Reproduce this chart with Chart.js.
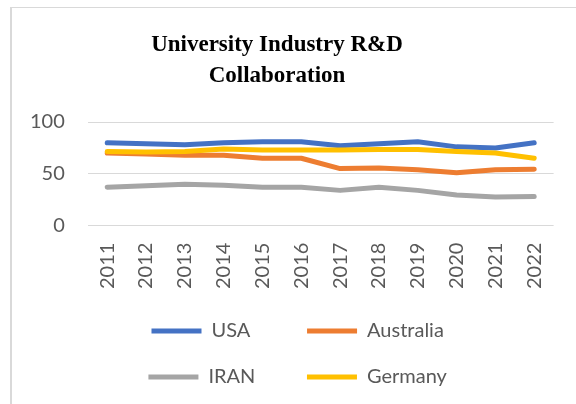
<!DOCTYPE html>
<html>
<head>
<meta charset="utf-8">
<script src="https://cdn.jsdelivr.net/npm/chart.js@4"></script>
<style>
  html, body { margin: 0; padding: 0; background: #fff; overflow: hidden; }
  #wrap { position: relative; width: 576px; height: 404px; }
  #frame { position: absolute; left: 10px; top: 7px; right: 0; bottom: 0;
           border-top: 1px solid #d9d9d9; border-left: 2px solid #d9d9d9; }
  canvas { position: absolute; left: 0; top: 0; }
</style>
</head>
<body>
<div id="wrap">
  <div id="frame"></div>
  <canvas id="rdChart" width="576" height="404"></canvas>
</div>
<script>
// Data
const years = ['2011', '2012', '2013', '2014', '2015', '2016', '2017', '2018', '2019', '2020', '2021', '2022'];
const usa = [80, 79, 78, 80, 81, 81, 77, 79, 81, 76, 75, 80];
const australia = [70, 69, 68, 68, 65, 65, 55, 55.5, 54, 51, 54, 54.5];
const iran = [37, 38.5, 40, 39, 37, 37, 34, 37, 34, 29.5, 27.5, 28];
const germany = [71.5, 71, 71.5, 74, 73, 73, 73, 73.5, 73.5, 71.5, 70, 65];
const yTicks = [0, 50, 100];
const titleLines = ['University Industry R&D', 'Collaboration'];

const textGray = '#595959';

// Title drawn by hand so it can sit off-centre like the original
const titlePlugin = {
    id: 'offsetTitle',
    afterDraw(chart) {
        const ctx = chart.ctx;
        ctx.save();
        ctx.font = 'bold 23px "Liberation Serif", "Times New Roman", serif';
        ctx.fillStyle = '#000';
        ctx.textAlign = 'center';
        ctx.textBaseline = 'alphabetic';
        ctx.fillText(titleLines[0], 277, 51);
        ctx.fillText(titleLines[1], 277, 82);
        ctx.restore();
    }
};

function line(label, data, color, order) {
    return {
        label: label,
        data: data,
        borderColor: color,
        backgroundColor: color,
        borderWidth: 5,
        borderCapStyle: 'round',
        borderJoinStyle: 'round',
        pointRadius: 0,
        tension: 0,
        order: order
    };
}

// trailing spaces keep the legend in two columns like Excel does
const legendPad = ['      ', '         ', '     ', '         '];

const ctx = document.getElementById('rdChart').getContext('2d');
new Chart(ctx, {
    type: 'line',
    data: {
        labels: years,
        datasets: [
            line('USA', usa, '#4472C4', 4),
            line('Australia', australia, '#ED7D31', 3),
            line('IRAN', iran, '#A5A5A5', 2),
            line('Germany', germany, '#FFC000', 1)
        ]
    },
    options: {
        responsive: false,
        animation: false,
        layout: { padding: { top: 122, left: 7, right: 19, bottom: 7 } },
        scales: {
            x: {
                offset: true,
                grid: { display: false, drawTicks: false },
                border: { display: false },
                afterFit: axis => { axis.height -= 11; },
                ticks: {
                    autoSkip: false,
                    minRotation: 90,
                    maxRotation: 90,
                    padding: 17,
                    color: textGray,
                    font: { family: 'Lato', size: 20 }
                }
            },
            y: {
                min: 0,
                max: 100,
                afterBuildTicks: axis => { axis.ticks = yTicks.map(v => ({ value: v })); },
                grid: { color: '#d9d9d9', lineWidth: 1, drawTicks: false },
                border: { display: false },
                ticks: {
                    padding: 23,
                    color: textGray,
                    font: { family: 'Lato', size: 20 }
                }
            }
        },
        plugins: {
            title: { display: false },
            tooltip: { enabled: false },
            legend: {
                position: 'bottom',
                fullSize: false,
                labels: {
                    usePointStyle: true,
                    pointStyle: 'line',
                    pointStyleWidth: 50,
                    padding: 26,
                    color: textGray,
                    font: { family: 'Lato', size: 20 },
                    sort: (a, b) => a.datasetIndex - b.datasetIndex,
                    generateLabels: chart => Chart.defaults.plugins.legend.labels.generateLabels(chart)
                        .map(item => Object.assign(item, { text: item.text + legendPad[item.datasetIndex] }))
                }
            }
        }
    },
    plugins: [titlePlugin]
});
</script>
</body>
</html>
